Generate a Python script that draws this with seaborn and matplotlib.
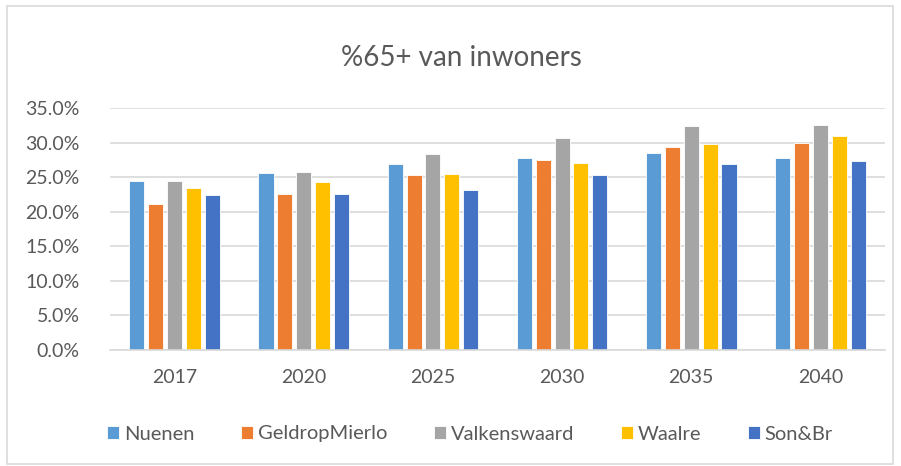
import pandas as pd
import seaborn as sns
import matplotlib.pyplot as plt
from matplotlib.patches import Rectangle
from matplotlib.ticker import FuncFormatter

# data (share of inhabitants aged 65+)
years = ["2017", "2020", "2025", "2030", "2035", "2040"]
gemeenten = ["Nuenen", "GeldropMierlo", "Valkenswaard", "Waalre", "Son&Br"]
nuenen = [0.244, 0.256, 0.269, 0.277, 0.285, 0.277]
geldrop_mierlo = [0.211, 0.226, 0.253, 0.275, 0.293, 0.299]
valkenswaard = [0.244, 0.257, 0.284, 0.307, 0.324, 0.326]
waalre = [0.235, 0.243, 0.255, 0.271, 0.298, 0.309]
son_br = [0.224, 0.226, 0.231, 0.253, 0.269, 0.274]
colors = ["#5B9BD5", "#ED7D31", "#A5A5A5", "#FFC000", "#4472C4"]

series = [nuenen, geldrop_mierlo, valkenswaard, waalre, son_br]
df = pd.DataFrame(
    [(y, g, v) for g, vals in zip(gemeenten, series) for y, v in zip(years, vals)],
    columns=["jaar", "gemeente", "aandeel"],
)

sns.set_style("white")
plt.rcParams["font.family"] = ["Lato", "DejaVu Sans"]
text_grey = "#595959"

fig = plt.figure(figsize=(9.01, 4.66), dpi=100)
ax = fig.add_axes([110 / 901, (466 - 350) / 466, 775 / 901, 242 / 466])

sns.barplot(data=df, x="jaar", y="aandeel", hue="gemeente", hue_order=gemeenten,
            palette=colors, width=0.73, gap=0.2, saturation=1, ax=ax,
            edgecolor="white", linewidth=0.6, errorbar=None)

ax.set_ylim(0, 0.35)
ax.set_yticks([i * 0.05 for i in range(8)])
ax.yaxis.set_major_formatter(FuncFormatter(lambda v, _: f"{v * 100:.1f}%"))
ax.grid(axis="y", color="#D9D9D9", linewidth=1.2)
ax.set_axisbelow(True)
for side in ["top", "right", "left"]:
    ax.spines[side].set_visible(False)
ax.spines["bottom"].set_color("#D9D9D9")
ax.spines["bottom"].set_linewidth(1.2)
ax.tick_params(axis="both", length=0, labelsize=14, colors=text_grey)
ax.tick_params(axis="x", pad=14)
ax.tick_params(axis="y", pad=22)
ax.set_xlabel("")
ax.set_ylabel("")

# legend below the chart, Excel style
handles, labels = ax.get_legend_handles_labels()
ax.get_legend().remove()
leg = fig.legend(handles, labels, loc="center", bbox_to_anchor=(470 / 901, 1 - 434 / 466),
                 ncol=5, frameon=False, fontsize=14.5, handlelength=0.6, handleheight=0.6,
                 handletextpad=0.25, columnspacing=2.3)
for t in leg.get_texts():
    t.set_color(text_grey)

fig.text(461 / 901, 1 - 58 / 466, "%65+ van inwoners", ha="center", va="center",
         fontsize=20, color=text_grey)

# light chart border
fig.patches.append(Rectangle((7 / 901, 2 / 466), 886 / 901, 458 / 466, transform=fig.transFigure,
                             fill=False, edgecolor="#D9D9D9", linewidth=1.2))

fig.savefig("out.png", dpi=100, facecolor="white")
